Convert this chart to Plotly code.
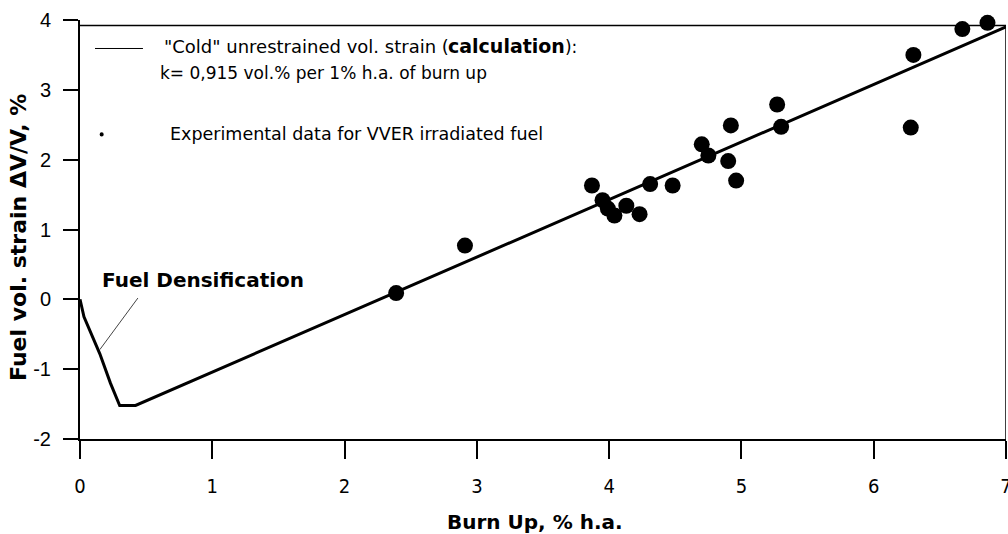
import plotly.graph_objects as go

# Calculated "cold" unrestrained volumetric strain (densification dip, then linear swelling)
calc_burnup = [0.0, 0.03, 0.15, 0.23, 0.30, 0.42, 7.0]
calc_strain = [0.0, -0.25, -0.78, -1.20, -1.52, -1.52, 3.90]

# Experimental data for VVER irradiated fuel
exp_burnup = [2.39, 2.91, 3.87, 3.95, 3.99, 4.04, 4.13, 4.23, 4.31, 4.48, 4.70,
              4.75, 4.90, 4.92, 4.96, 5.27, 5.30, 6.28, 6.30, 6.67, 6.86]
exp_strain = [0.09, 0.77, 1.63, 1.42, 1.30, 1.20, 1.34, 1.22, 1.65, 1.63, 2.22,
              2.06, 1.98, 2.49, 1.70, 2.79, 2.47, 2.46, 3.50, 3.87, 3.96]

x_ticks = [0, 1, 2, 3, 4, 5, 6, 7]
y_ticks = [-2, -1, 0, 1, 2, 3, 4]
frame_top = 3.92

fig = go.Figure()
fig.add_trace(go.Scatter(x=calc_burnup, y=calc_strain, mode="lines",
                         line=dict(color="black", width=3), cliponaxis=False,
                         showlegend=False))
fig.add_trace(go.Scatter(x=exp_burnup, y=exp_strain, mode="markers",
                         marker=dict(color="black", size=16, line=dict(width=0)),
                         cliponaxis=False, showlegend=False))

# Box top and right edges
fig.add_shape(type="line", xref="x", yref="y", x0=0, x1=7, y0=frame_top, y1=frame_top,
              line=dict(color="black", width=1.5))
fig.add_shape(type="line", xref="x", yref="y", x0=7, x1=7, y0=-2, y1=frame_top,
              line=dict(color="black", width=1.5))

# Legend block
fig.add_shape(type="line", xref="paper", yref="paper", x0=0.0162, x1=0.068, y0=0.932, y1=0.932,
              line=dict(color="black", width=1))
fig.add_shape(type="circle", xref="paper", yref="paper", x0=0.0212, x1=0.0256, y0=0.722, y1=0.732,
              fillcolor="black", line=dict(color="black", width=0))

legend_font = dict(family="DejaVu Sans, Verdana, sans-serif", size=17, color="black")
fig.add_annotation(xref="paper", yref="paper", x=0.0886, y=0.937, xanchor="left", yanchor="middle",
                   showarrow=False, font=dict(family="DejaVu Sans, Verdana, sans-serif", size=18, color="black"),
                   text='"Cold" unrestrained vol. strain (')
fig.add_annotation(xref="paper", yref="paper", x=0.395, y=0.937, xanchor="left", yanchor="middle",
                   showarrow=False, font=legend_font,
                   text='<b><span style="font-size:19px">calculation</span></b>):')
fig.add_annotation(xref="paper", yref="paper", x=0.0842, y=0.873, xanchor="left", yanchor="middle",
                   showarrow=False, font=legend_font,
                   text="k= 0,915 vol.% per 1% h.a. of burn up")
fig.add_annotation(xref="paper", yref="paper", x=0.095, y=0.728, xanchor="left", yanchor="middle",
                   showarrow=False, font=dict(family="DejaVu Sans, Verdana, sans-serif", size=17.5, color="black"),
                   text="Experimental data for VVER irradiated fuel")

# Densification callout
fig.add_annotation(x=0.15, y=0.28, xref="x", yref="y", xanchor="left", yanchor="middle",
                   showarrow=False, text="<b>Fuel Densification</b>",
                   font=dict(family="DejaVu Sans, Verdana, sans-serif", size=20, color="black"))
fig.add_annotation(x=0.15, y=-0.72, xref="x", yref="y", ax=0.446, ay=0.04, axref="x", ayref="y",
                   text="", showarrow=True, arrowhead=0, arrowwidth=1, arrowcolor="#444")

# Axis titles
fig.add_annotation(xref="paper", yref="paper", x=0.491, y=-0.198, xanchor="center", yanchor="middle",
                   showarrow=False, text="<b>Burn Up, % h.a.</b>",
                   font=dict(family="DejaVu Sans, Verdana, sans-serif", size=20, color="black"))
fig.add_annotation(xref="paper", yref="paper", x=-0.067, y=0.482, xanchor="center", yanchor="middle",
                   showarrow=False, textangle=-90, text="<b>Fuel vol. strain ΔV/V, %</b>",
                   font=dict(family="DejaVu Sans, Verdana, sans-serif", size=22, color="black"))

fig.update_xaxes(range=[0, 7], tickvals=x_ticks, ticktext=[str(v) for v in x_ticks],
                 showline=True, linecolor="black", linewidth=2,
                 ticks="outside", ticklen=18, tickwidth=1.5, tickcolor="black",
                 ticklabelstandoff=10, ticklabeloverflow="allow", automargin=False,
                 showgrid=False, zeroline=False,
                 tickfont=dict(family="Liberation Sans Narrow, DejaVu Sans Condensed, Arial Narrow, sans-serif",
                               size=20, color="black"))
fig.update_yaxes(range=[-2, 4], tickvals=y_ticks, ticktext=[str(v) for v in y_ticks],
                 showline=True, linecolor="black", linewidth=2,
                 ticks="outside", ticklen=15, tickwidth=1.5, tickcolor="black",
                 ticklabelstandoff=8, automargin=False, showgrid=False, zeroline=False,
                 tickfont=dict(family="Liberation Sans, Arial, sans-serif", size=20, color="black"))

fig.update_layout(width=1008, height=534, margin=dict(l=80, r=2, t=20, b=95),
                  paper_bgcolor="white", plot_bgcolor="white", showlegend=False)

fig.write_html("out.html")
